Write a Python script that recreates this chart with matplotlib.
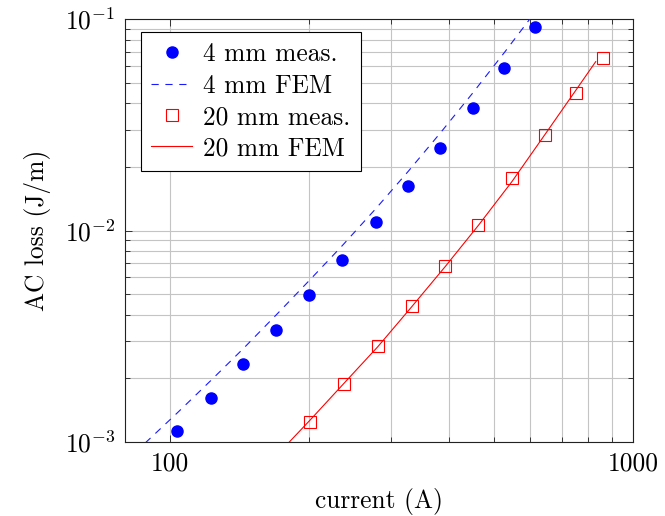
import matplotlib
matplotlib.use('Agg')
import matplotlib.pyplot as plt
from matplotlib.ticker import FixedLocator, NullFormatter

plt.rcParams['font.family'] = 'serif'
plt.rcParams['font.serif'] = ['cmr10']
plt.rcParams['mathtext.fontset'] = 'cm'
plt.rcParams['axes.unicode_minus'] = False
plt.rcParams['axes.formatter.use_mathtext'] = True

# Measured and simulated AC loss per unit length
current_4mm_meas = [103.7, 122.4, 143.8, 169.3, 199.5, 234.8, 278.0, 326.9, 383.2, 450.3, 526.8, 613.6]
loss_4mm_meas = [1.127e-3, 1.615e-3, 2.333e-3, 3.37e-3, 4.93e-3, 7.25e-3,
                 1.094e-2, 1.63e-2, 2.466e-2, 3.79e-2, 5.86e-2, 9.16e-2]

current_4mm_fem = [80.0, 103.7, 122.4, 143.8, 169.3, 199.5, 234.8, 278.0, 326.9, 383.2, 450.3, 526.8, 613.6]
loss_4mm_fem = [8.02e-4, 1.368e-3, 1.943e-3, 2.751e-3, 3.968e-3, 5.772e-3, 8.42e-3,
                1.267e-2, 1.907e-2, 2.894e-2, 4.477e-2, 6.956e-2, 1.080e-1]

current_20mm_meas = [200.3, 237.5, 281.2, 332.9, 392.9, 462.9, 547.3, 645.8, 751.0, 860.0]
loss_20mm_meas = [1.243e-3, 1.870e-3, 2.848e-3, 4.41e-3, 6.81e-3, 1.062e-2,
                  1.767e-2, 2.842e-2, 4.49e-2, 6.54e-2]

current_20mm_fem = [164.4, 200.3, 237.5, 281.2, 332.9, 392.9, 462.9, 547.3, 645.8, 751.0, 829.6]
loss_20mm_fem = [7.98e-4, 1.260e-3, 1.890e-3, 2.823e-3, 4.367e-3, 6.753e-3,
                 1.056e-2, 1.706e-2, 2.863e-2, 4.602e-2, 6.30e-2]

x_major = [100, 1000]
x_major_labels = ['100', '1000']
x_minor = [200, 300, 400, 500, 600, 700, 800, 900]
y_major = [1e-3, 1e-2, 1e-1]
y_major_labels = [r'$10^{-3}$', r'$10^{-2}$', r'$10^{-1}$']
y_minor = [k * 10.0 ** e for e in (-3, -2) for k in range(2, 10)]

fs = 18.3
fig = plt.figure(figsize=(6.65, 5.16), dpi=100)
ax = fig.add_axes([125 / 665, 1 - 441.7 / 516, (633.3 - 125) / 665, (441.7 - 19.3) / 516])
ax.set_xscale('log')
ax.set_yscale('log')
ax.set_xlim(80, 1000)
ax.set_ylim(1e-3, 1e-1)

ax.xaxis.set_major_locator(FixedLocator(x_major))
ax.set_xticklabels(x_major_labels)
ax.xaxis.set_minor_locator(FixedLocator(x_minor))
ax.xaxis.set_minor_formatter(NullFormatter())
ax.yaxis.set_major_locator(FixedLocator(y_major))
ax.set_yticklabels(y_major_labels)
ax.yaxis.set_minor_locator(FixedLocator(y_minor))
ax.yaxis.set_minor_formatter(NullFormatter())

ax.grid(True, which='both', color='#c4c4c4', linewidth=0.8)
ax.set_axisbelow(True)
ax.tick_params(which='both', direction='in', top=True, right=True,
               labelsize=fs, color='#333333', width=0.7)
ax.tick_params(which='major', length=5.0, pad=7)
ax.tick_params(which='minor', length=3.4)
for s in ax.spines.values():
    s.set_linewidth(0.8)
    s.set_color('#222222')

ax.plot(current_4mm_meas, loss_4mm_meas, linestyle='none', marker='o', markersize=8,
        color='#0000ff', label='4 mm meas.', clip_on=False, zorder=4)
ax.plot(current_4mm_fem, loss_4mm_fem, linestyle=(0, (6.5, 6.0)), linewidth=0.8,
        color='#1a1aff', label='4 mm FEM', zorder=3)
ax.plot(current_20mm_meas, loss_20mm_meas, linestyle='none', marker='s', markersize=8,
        markerfacecolor='none', markeredgecolor='#ff0000', markeredgewidth=0.8,
        label='20 mm meas.', zorder=4)
ax.plot(current_20mm_fem, loss_20mm_fem, linestyle='-', linewidth=0.8,
        color='#ff0000', label='20 mm FEM', zorder=3)

ax.set_xlabel('current (A)', fontsize=fs, labelpad=9)
ax.set_ylabel('AC loss (J/m)', fontsize=fs, labelpad=10)

leg = ax.legend(loc='upper left', bbox_to_anchor=(0.0315, 0.969), borderaxespad=0,
                fontsize=fs, fancybox=False, edgecolor='black', framealpha=1,
                handlelength=1.6, handletextpad=0.45, borderpad=0.4,
                labelspacing=0.3, numpoints=1)
leg.get_frame().set_linewidth(0.8)

fig.savefig('out.png', dpi=100)
